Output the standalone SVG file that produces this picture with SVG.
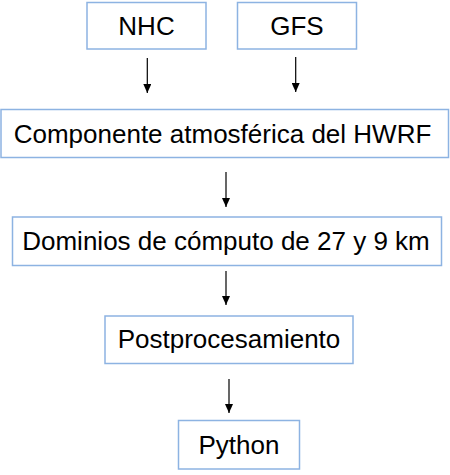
<svg xmlns="http://www.w3.org/2000/svg" width="450" height="475" viewBox="0 0 450 475">
<style>
.box{fill:#ffffff;stroke:#8db3e2;stroke-width:1.5}
.lbl{font-family:"Liberation Sans",Arial,sans-serif;font-size:26px;fill:#000;text-anchor:middle}
.arr{stroke:#000;stroke-width:1.2;fill:none}
</style>
<defs>
<marker id="ah" markerWidth="9" markerHeight="8" refX="9" refY="4" orient="auto" markerUnits="userSpaceOnUse" viewBox="0 0 9 8">
<path d="M0,0 L9,4 L0,8 Z" fill="#000"/>
</marker>
</defs>
<rect width="450" height="475" fill="#ffffff"/>
<g id="nhc"><rect class="box" x="87" y="2.5" width="119" height="46.5"/><text class="lbl" x="146.5" y="34.5">NHC</text></g>
<g id="gfs"><rect class="box" x="237.5" y="2.5" width="119" height="46.5"/><text class="lbl" x="297" y="34.5">GFS</text></g>
<g id="hwrf"><rect class="box" x="1" y="109.5" width="447.5" height="48"/><text class="lbl" x="222.5" y="142.5">Componente atmosférica del HWRF</text></g>
<g id="dominios"><rect class="box" x="12.5" y="217" width="429" height="48.5"/><text class="lbl" x="226" y="249.5">Dominios de cómputo de 27 y 9 km</text></g>
<g id="post"><rect class="box" x="105" y="316" width="248" height="47.5"/><text class="lbl" x="229" y="347.5">Postprocesamiento</text></g>
<g id="python"><rect class="box" x="178.5" y="420.5" width="121" height="48.5"/><text class="lbl" x="239" y="453.5">Python</text></g>
<g id="connectors">
<line class="arr" x1="147.3" y1="58" x2="147.3" y2="93" marker-end="url(#ah)"/>
<line class="arr" x1="295.7" y1="57" x2="295.7" y2="92" marker-end="url(#ah)"/>
<line class="arr" x1="226" y1="172" x2="226" y2="207" marker-end="url(#ah)"/>
<line class="arr" x1="226" y1="271" x2="226" y2="305" marker-end="url(#ah)"/>
<line class="arr" x1="229" y1="379" x2="229" y2="413" marker-end="url(#ah)"/>
</g>
</svg>
